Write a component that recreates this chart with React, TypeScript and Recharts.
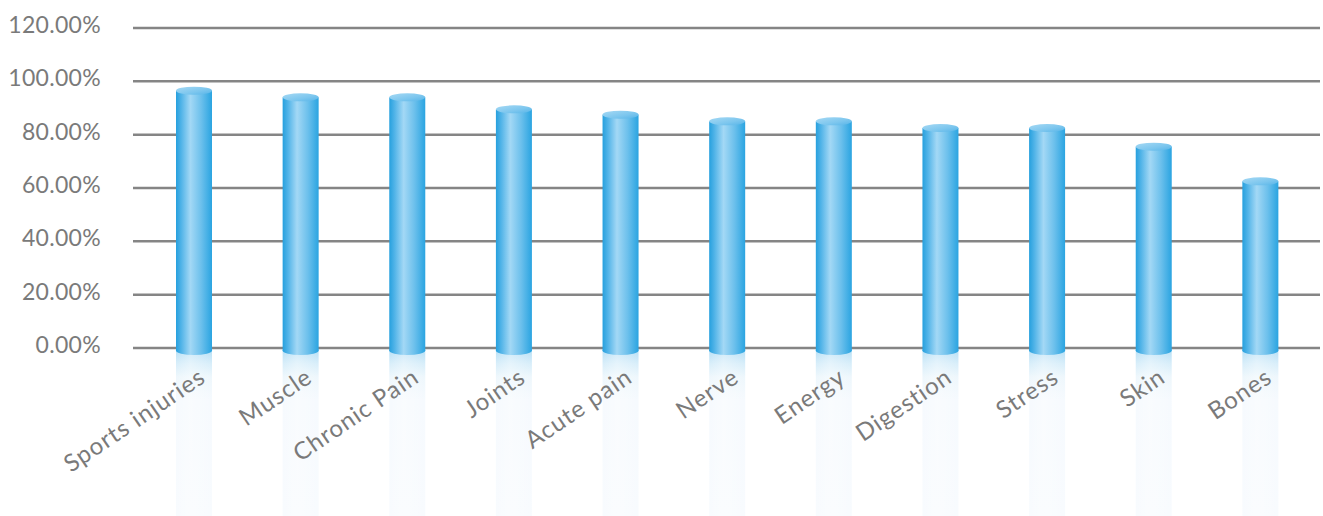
import React from "react";
import { BarChart, Bar, XAxis, YAxis, CartesianGrid } from "recharts";

const categories = [
  "Sports injuries",
  "Muscle",
  "Chronic Pain",
  "Joints",
  "Acute pain",
  "Nerve",
  "Energy",
  "Digestion",
  "Stress",
  "Skin",
  "Bones",
];
const values = [96.5, 94, 94, 89.5, 87.5, 85, 85, 82.5, 82.5, 75.5, 62.5];
const yTicks = [0, 20, 40, 60, 80, 100, 120];

const data = categories.map((name, i) => ({ name, value: values[i] }));

const W = 1323;
const H = 516;
const FONT = "'Century Gothic', 'URW Gothic', Lato, 'Open Sans', sans-serif";
const TEXT_COLOR = "#7a7a7a";

const Cylinder = (props: any) => {
  const { x, y, width, height } = props;
  if (width == null || height == null) return null;
  const rx = width / 2;
  const ry = 4;
  const cx = x + rx;
  const y0 = y + height;
  const bottomC = y0 + 2.5;
  const reflTop = bottomC;
  const reflH = Math.max(0, H - reflTop);
  return (
    <g>
      <rect x={x} y={reflTop} width={width} height={reflH} fill="url(#reflGrad)" />
      <rect x={x} y={reflTop} width={width} height={reflH} fill="url(#reflSide)" />
      <ellipse cx={cx} cy={bottomC} rx={rx} ry={ry + 0.5} fill="url(#bodyGrad)" />
      <rect x={x} y={y} width={width} height={bottomC - y} fill="url(#bodyGrad)" />
      <ellipse cx={cx} cy={y} rx={rx} ry={ry} fill="url(#topGrad)" />
    </g>
  );
};

const XTick = (props: any) => {
  const { x, y, payload } = props;
  const ax = x + 13;
  const ay = y + 33;
  return (
    <text
      x={ax}
      y={ay}
      transform={`rotate(-34, ${ax}, ${ay})`}
      textAnchor="end"
      fill={TEXT_COLOR}
      fontSize={24}
      fontFamily={FONT}
      fontWeight={400}
      letterSpacing={1}
    >
      {payload.value}
    </text>
  );
};

const YTick = (props: any) => {
  const { x, y, payload } = props;
  return (
    <text
      x={x}
      y={y + 5}
      textAnchor="end"
      fill={TEXT_COLOR}
      fontSize={23}
      fontFamily={FONT}
      fontWeight={400}
      letterSpacing={0.3}
    >
      {`${Number(payload.value).toFixed(2)}%`}
    </text>
  );
};

export default function App() {
  return (
    <div style={{ position: "fixed", left: 0, top: 0, width: W, height: H, background: "#ffffff" }}>
      <BarChart
        width={W}
        height={H}
        data={data}
        margin={{ top: 28, right: 3, bottom: 0, left: 0 }}
      >
        <defs>
          <linearGradient id="bodyGrad" x1="0" y1="0" x2="1" y2="0">
            <stop offset="0%" stopColor="#26a0de" />
            <stop offset="15%" stopColor="#52b4e8" />
            <stop offset="40%" stopColor="#a3d8f5" />
            <stop offset="70%" stopColor="#6cc0ec" />
            <stop offset="100%" stopColor="#2aa4e1" />
          </linearGradient>
          <linearGradient id="topGrad" x1="0" y1="0" x2="1" y2="1">
            <stop offset="0%" stopColor="#a6d9f4" />
            <stop offset="60%" stopColor="#7cc6ee" />
            <stop offset="100%" stopColor="#55b4e8" />
          </linearGradient>
          <linearGradient id="reflGrad" x1="0" y1="0" x2="0" y2="1">
            <stop offset="0%" stopColor="#b8e0f6" />
            <stop offset="8%" stopColor="#d8eefa" />
            <stop offset="16%" stopColor="#eef7fc" />
            <stop offset="30%" stopColor="#f6fafe" />
            <stop offset="100%" stopColor="#f8fbfe" />
          </linearGradient>
          <linearGradient id="reflSide" x1="0" y1="0" x2="1" y2="0">
            <stop offset="0%" stopColor="#ffffff" stopOpacity={0} />
            <stop offset="40%" stopColor="#ffffff" stopOpacity={0.35} />
            <stop offset="100%" stopColor="#ffffff" stopOpacity={0} />
          </linearGradient>
        </defs>
        <CartesianGrid vertical={false} stroke="#858585" strokeWidth={2.5} />
        <YAxis
          type="number"
          domain={[0, 120]}
          ticks={yTicks}
          width={133}
          axisLine={false}
          tickLine={false}
          tickSize={0}
          tickMargin={32}
          tick={<YTick />}
          interval={0}
        />
        <Bar dataKey="value" barSize={36} shape={<Cylinder />} isAnimationActive={false} />
        <XAxis
          dataKey="name"
          height={168}
          axisLine={false}
          tickLine={false}
          tickSize={0}
          tickMargin={0}
          interval={0}
          padding={{ left: 8, right: 6 }}
          tick={<XTick />}
        />
      </BarChart>
    </div>
  );
}
